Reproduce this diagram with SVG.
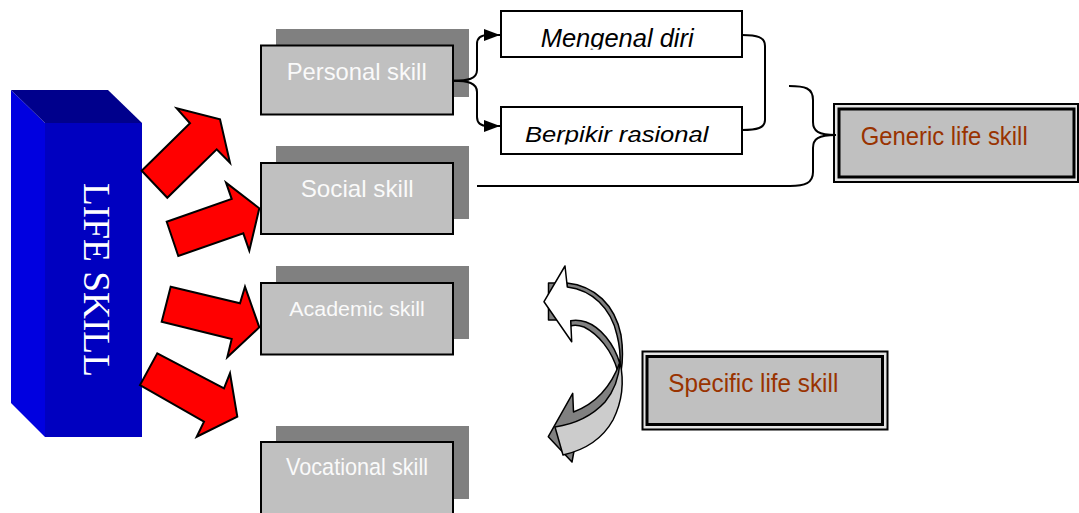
<svg xmlns="http://www.w3.org/2000/svg" width="1079" height="513" viewBox="0 0 1079 513">
<style>
.shadow{fill:#808080}
.front{fill:#c0c0c0;stroke:#000;stroke-width:2}
.lbl{font-family:"Liberation Sans",Arial,sans-serif;fill:#fafafa}
.sub{fill:#fff;stroke:#000;stroke-width:2}
.subt{font-family:"Liberation Sans",Arial,sans-serif;font-style:italic;fill:#000}
.conn{fill:none;stroke:#000;stroke-width:2}
.red{fill:#ff0000;stroke:#000;stroke-width:2;stroke-linejoin:miter}
.gen{font-family:"Liberation Sans",Arial,sans-serif;fill:#993300}
.cv{stroke:#000;stroke-width:1.5;stroke-linejoin:round}
</style>
<defs>
<marker id="ah" markerUnits="userSpaceOnUse" markerWidth="16" markerHeight="12" viewBox="0 0 16 12" refX="16" refY="6" orient="auto">
<path d="M0,0 L16,6 L0,12 Z" fill="#000"/>
</marker>
<clipPath id="c1"><rect x="500" y="11" width="242" height="38.5"/></clipPath>
<clipPath id="c2"><rect x="500" y="107" width="242" height="37.5"/></clipPath>
</defs>
<rect width="1079" height="513" fill="#fff"/>

<g id="life-skill">
<polygon points="11,90 45,123 45,437 11,403" fill="#0000e0"/>
<polygon points="11,90 108,90 142,123 45,123" fill="#00008c"/>
<rect x="45" y="123" width="97" height="314" fill="#0000c0"/>
<text transform="translate(84,280) rotate(90)" text-anchor="middle" font-family="'Liberation Serif','Times New Roman',serif" font-size="38" fill="#fff" textLength="194" lengthAdjust="spacingAndGlyphs">LIFE SKILL</text>
</g>

<g id="red-arrows">
<polygon class="red" points="141.7,170.7 190,123.3 176.7,108.3 220,119.3 230,162.7 216.7,149.3 167.3,197.7"/>
<polygon class="red" points="166.7,221.7 231.7,199 226,182.7 259.3,208.3 249.3,250.7 243.3,233.3 178.3,256"/>
<polygon class="red" points="170.7,286.7 240,303.3 245,286.7 259.3,327.3 227.3,357.3 231.7,339 161.7,321.7"/>
<polygon class="red" points="157.3,353.3 224,388.3 230,373.3 237.3,416.7 196.7,436.7 204,421.7 140,385"/>
</g>

<g id="personal-skill">
<rect class="shadow" x="276" y="29" width="193" height="68"/>
<rect class="front" x="261" y="45.5" width="192" height="69"/>
<text class="lbl" x="286.7" y="80" font-size="24" textLength="140" lengthAdjust="spacingAndGlyphs">Personal skill</text>
</g>

<g id="social-skill">
<rect class="shadow" x="276" y="146" width="193" height="73"/>
<rect class="front" x="261" y="163" width="192" height="71"/>
<text class="lbl" x="300.7" y="196.7" font-size="24" textLength="113" lengthAdjust="spacingAndGlyphs">Social skill</text>
</g>

<g id="academic-skill">
<rect class="shadow" x="276" y="266" width="193" height="73"/>
<rect class="front" x="261" y="283" width="192" height="71.5"/>
<text class="lbl" x="289.3" y="315.7" font-size="20.5" textLength="135.5" lengthAdjust="spacingAndGlyphs">Academic skill</text>
</g>

<g id="vocational-skill">
<rect class="shadow" x="276" y="426" width="193" height="73"/>
<rect class="front" x="261" y="442" width="192" height="75"/>
<text class="lbl" x="286" y="475" font-size="24.5" textLength="142" lengthAdjust="spacingAndGlyphs">Vocational skill</text>
</g>

<g id="mengenal-diri">
<rect class="sub" x="501" y="11" width="241" height="46"/>
<text class="subt" clip-path="url(#c1)" x="540.7" y="46.7" font-size="26" textLength="153" lengthAdjust="spacingAndGlyphs">Mengenal diri</text>
</g>

<g id="berpikir-rasional">
<rect class="sub" x="501" y="107" width="241" height="47"/>
<text class="subt" clip-path="url(#c2)" x="525" y="141.7" font-size="22.5" textLength="183.5" lengthAdjust="spacingAndGlyphs">Berpikir rasional</text>
</g>

<g id="generic-life-skill">
<rect x="834" y="104" width="244" height="78" fill="#e4e4e4" stroke="#000" stroke-width="2"/>
<rect x="839" y="109" width="235" height="68" fill="#c0c0c0" stroke="#000" stroke-width="3"/>
<text class="gen" x="860.7" y="145" font-size="25.5" textLength="167" lengthAdjust="spacingAndGlyphs">Generic life skill</text>
</g>

<g id="specific-life-skill">
<rect x="642.5" y="351.5" width="245" height="78" fill="#e4e4e4" stroke="#000" stroke-width="2"/>
<rect x="647" y="356.5" width="235.5" height="68" fill="#c0c0c0" stroke="#000" stroke-width="3"/>
<text class="gen" x="668.3" y="392.3" font-size="25.5" textLength="170" lengthAdjust="spacingAndGlyphs">Specific life skill</text>
</g>

<g id="curved-arrow">
<rect class="cv" x="548.5" y="283" width="10" height="37" fill="#808080"/>
<path class="cv" fill="#808080" d="M567,283 C595,286 615,305 621,335 C623,348 623,360 621,372 L618,372 C612,350 598,334 584,327 C578,325 574,325 570.7,326 Z"/>
<path class="cv" fill="#fff" d="M565,266 L567.3,287 C592,290 611,308 617,335 C619.5,345 620.5,355 620,364 C614,343 600,327 586,322 C580,320 575,320 570.7,320.7 L571.7,341.7 L544,301.7 Z"/>
<path class="cv" fill="#808080" d="M572.7,393.3 L573.5,412 C592,405 610,390 620,362 L620,385 C612,410 595,428 576,440 L572,462 L548.3,436.7 Z"/>
<path class="cv" fill="#cccccc" d="M620,362 C624,380 623,400 613,420 C603,438 585,450 563,455 L555,427 C575,424 592,416 605,402 C614,391 619,378 620,362 Z"/>
</g>

<g id="connectors">
<path class="conn" marker-end="url(#ah)" d="M453,80.7 C468,80.7 477,79 477,70 L477,44 C477,38 480,35 488,35 L500,35"/>
<path class="conn" marker-end="url(#ah)" d="M453,80.7 C468,80.7 477,83 477,92 L477,117 C477,123 480,126 488,126 L500,126"/>
<path class="conn" d="M742,35 C757,35 765,37 765,46 L765,120 C765,128 757,130 742,130"/>
<path class="conn" d="M789,86 C805,86 813,88 813,100 L813,122 C813,131 818,135 836,135"/>
<path class="conn" d="M836,135 C818,135 813,139 813,148 L813,172 C813,183 805,186 790,186 L477,186"/>
</g>
</svg>
